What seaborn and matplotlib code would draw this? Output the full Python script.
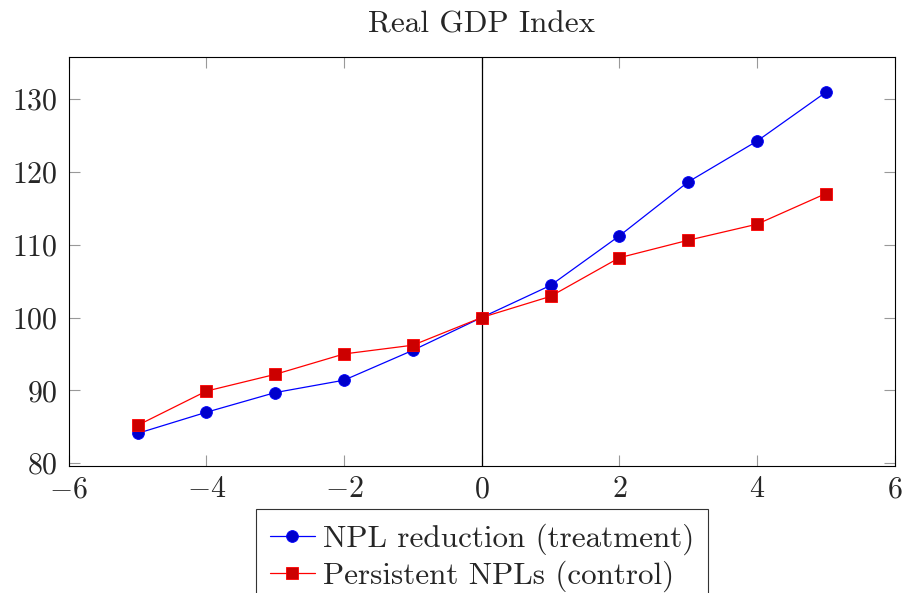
import numpy as np
import pandas as pd
import matplotlib
matplotlib.use("Agg")
import matplotlib.pyplot as plt
import seaborn as sns

# Event time relative to the NPL resolution year
years = [-5, -4, -3, -2, -1, 0, 1, 2, 3, 4, 5]
treatment = [84.1, 87.0, 89.7, 91.4, 95.5, 100.0, 104.4, 111.2, 118.6, 124.2, 130.9]
control = [85.2, 89.9, 92.2, 95.0, 96.2, 100.0, 102.9, 108.2, 110.6, 112.8, 117.0]
series_names = ["NPL reduction (treatment)", "Persistent NPLs (control)"]
title = "Real GDP Index"

sns.set_theme(style="ticks")
plt.rcParams.update({
    "font.family": ["cmr10", "DejaVu Serif"],
    "mathtext.fontset": "cm",
    "axes.formatter.use_mathtext": True,
    "axes.unicode_minus": True,
    "font.size": 21,
})

df = pd.DataFrame({
    "year": years * 2,
    "gdp": treatment + control,
    "group": [series_names[0]] * len(years) + [series_names[1]] * len(years),
})

fig = plt.figure(figsize=(9.05, 5.93), dpi=100)
ax = fig.add_axes([0.0759, 0.2142, 0.9127, 0.6892])

styles = {
    series_names[0]: dict(color="#0000FF", marker="o", markerfacecolor="#0000CC",
                          markeredgecolor="#0000FF", markersize=8.5),
    series_names[1]: dict(color="#FF0000", marker="s", markerfacecolor="#CC0000",
                          markeredgecolor="#FF0000", markersize=8.0),
}
for name in series_names:
    sub = df[df["group"] == name]
    sns.lineplot(data=sub, x="year", y="gdp", ax=ax, label=name,
                 linewidth=0.9, markeredgewidth=0.6, **styles[name])

ax.axvline(0, color="black", linewidth=0.9, zorder=1)

ax.set_xlim(-6, 6)
ax.set_ylim(79.63, 135.7)
ax.set_xticks([-6, -4, -2, 0, 2, 4, 6])
ax.set_yticks([80, 90, 100, 110, 120, 130])
ax.set_xlabel("")
ax.set_ylabel("")
ax.tick_params(direction="in", length=8, width=0.8, color="#999999",
               top=True, right=True, labelsize=21.5, pad=7)
ax.tick_params(axis="y", pad=8)
for sp in ax.spines.values():
    sp.set_color("black")
    sp.set_linewidth(0.8)

ax.set_title(title, fontsize=22.4, pad=18)

leg = ax.legend(loc="upper center", bbox_to_anchor=(0.5, -0.106), ncol=1,
                frameon=True, fancybox=False, framealpha=1, edgecolor="#333333",
                fontsize=22.4, handlelength=1.45, handletextpad=0.25,
                borderpad=0.45, labelspacing=0.2, borderaxespad=0)
leg.get_frame().set_linewidth(0.8)

fig.savefig("out.png", dpi=100)
